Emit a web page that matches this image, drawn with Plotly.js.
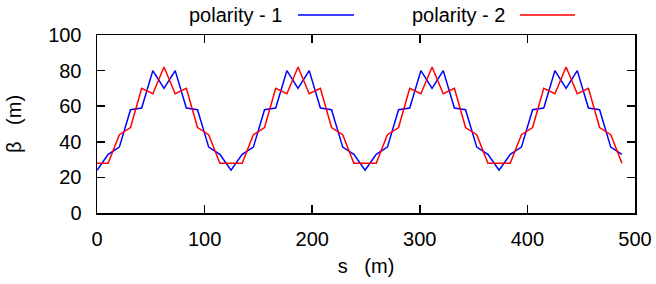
<!DOCTYPE html>
<html>
<head>
<meta charset="utf-8">
<script src="https://cdn.plot.ly/plotly-3.0.1.min.js"></script>
<style>html,body{margin:0;padding:0;background:#fff;}#chart{width:656px;height:284px;}</style>
</head>
<body>
<div id="chart"></div>
<script>
var s = [0, 10.38, 20.76, 31.14, 41.52, 51.9, 62.28, 72.66, 83.04, 93.42, 103.8, 114.18,
         124.56, 134.94, 145.32, 155.7, 166.08, 176.46, 186.84, 197.22, 207.6, 217.98, 228.36, 238.74,
         249.12, 259.5, 269.88, 280.26, 290.64, 301.02, 311.4, 321.78, 332.16, 342.54, 352.92, 363.3,
         373.68, 384.06, 394.44, 404.82, 415.2, 425.58, 435.96, 446.34, 456.72, 467.1, 477.48, 487.86];
var beta1 = [24, 33, 37, 58, 59, 80, 70, 80, 59, 58, 37, 33,
             24, 33, 37, 58, 59, 80, 70, 80, 59, 58, 37, 33,
             24, 33, 37, 58, 59, 80, 70, 80, 59, 58, 37, 33,
             24, 33, 37, 58, 59, 80, 70, 80, 59, 58, 37, 33];
var beta2 = [28, 28, 44, 48, 70, 67, 82, 67, 70, 48, 44, 28,
             28, 28, 44, 48, 70, 67, 82, 67, 70, 48, 44, 28,
             28, 28, 44, 48, 70, 67, 82, 67, 70, 48, 44, 28,
             28, 28, 44, 48, 70, 67, 82, 67, 70, 48, 44, 28];
var xTicks = [0, 100, 200, 300, 400, 500];
var yTicks = [0, 20, 40, 60, 80, 100];
var names = ['polarity - 1', 'polarity - 2'];
var colors = ['#0000ff', '#ff0000'];

var font = {family: 'Liberation Sans, Arial, sans-serif', size: 20, color: '#000'};

var traces = [
  {x: s, y: beta1, type: 'scatter', mode: 'lines', name: names[0], line: {color: colors[0], width: 1.5}},
  {x: s, y: beta2, type: 'scatter', mode: 'lines', name: names[1], line: {color: colors[1], width: 1.5}}
];

var axBase = {
  showline: true, linecolor: '#000', linewidth: 1.5, mirror: 'ticks',
  ticks: 'inside', ticklen: 8, tickwidth: 1.5, tickcolor: '#000',
  showgrid: false, zeroline: false, tickfont: font
};

var layout = {
  width: 656, height: 284,
  margin: {l: 97, r: 21, t: 35, b: 71},
  paper_bgcolor: '#fff', plot_bgcolor: '#fff',
  showlegend: false,
  font: font,
  xaxis: Object.assign({}, axBase, {
    range: [0, 500], tickvals: xTicks, ticktext: xTicks.map(String),
    ticklabelstandoff: 7,
    title: {text: 's   (m)', font: font, standoff: 10}
  }),
  yaxis: Object.assign({}, axBase, {
    range: [0, 100], tickvals: yTicks, ticktext: yTicks.map(String),
    ticklabelstandoff: 10,
    title: {text: 'β   (m)', font: font, standoff: 21}
  }),
  annotations: [
    {xref: 'paper', yref: 'paper', x: 0.3485, y: 1.11, xanchor: 'right', yanchor: 'middle', text: names[0], showarrow: false, font: font},
    {xref: 'paper', yref: 'paper', x: 0.762, y: 1.11, xanchor: 'right', yanchor: 'middle', text: names[1], showarrow: false, font: font}
  ],
  shapes: [
    {type: 'line', xref: 'paper', yref: 'paper', x0: 0.3736, x1: 0.4777, y0: 1.1125, y1: 1.1125, line: {color: colors[0], width: 1.5}},
    {type: 'line', xref: 'paper', yref: 'paper', x0: 0.786, x1: 0.8885, y0: 1.1125, y1: 1.1125, line: {color: colors[1], width: 1.5}}
  ]
};

Plotly.newPlot('chart', traces, layout, {displayModeBar: false, staticPlot: true});
</script>
</body>
</html>
